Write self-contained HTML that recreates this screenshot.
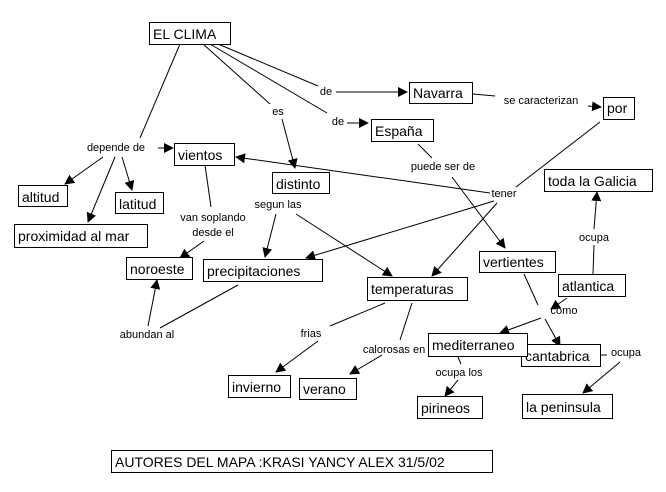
<!DOCTYPE html>
<html><head><meta charset="utf-8"><style>
html,body{margin:0;padding:0;background:#fff;}
svg{display:block;}
text{font-family:"Liberation Sans",sans-serif;fill:#000;}
.n{font-size:14px;}
.l{font-size:11px;}
rect{fill:#fff;stroke:#000;stroke-width:1;}
line{stroke:#000;stroke-width:1;}
</style></head><body>
<svg width="666" height="492" viewBox="0 0 666 492" xmlns="http://www.w3.org/2000/svg">
<defs><marker id="a" markerWidth="10" markerHeight="10" refX="9" refY="5" orient="auto" markerUnits="userSpaceOnUse"><path d="M0,0 L10,5 L0,10 z" fill="#000"/></marker></defs>
<g>
<line x1="180" y1="44" x2="140" y2="138"/>
<line x1="158" y1="148" x2="173" y2="148" marker-end="url(#a)"/>
<line x1="103" y1="157" x2="65" y2="184" marker-end="url(#a)"/>
<line x1="115" y1="157" x2="88" y2="222" marker-end="url(#a)"/>
<line x1="122" y1="157" x2="132" y2="190" marker-end="url(#a)"/>
<line x1="203" y1="44" x2="270" y2="104"/>
<line x1="282" y1="119" x2="295" y2="168" marker-end="url(#a)"/>
<line x1="218" y1="44" x2="318" y2="86"/>
<line x1="336" y1="92" x2="407" y2="92" marker-end="url(#a)"/>
<line x1="210" y1="44" x2="327" y2="113"/>
<line x1="347" y1="123" x2="368" y2="123" marker-end="url(#a)"/>
<line x1="473" y1="94" x2="495" y2="96"/>
<line x1="588" y1="106" x2="601" y2="107" marker-end="url(#a)"/>
<line x1="600" y1="122" x2="516" y2="187"/>
<line x1="490" y1="193" x2="236" y2="157" marker-end="url(#a)"/>
<line x1="494" y1="201" x2="306" y2="258" marker-end="url(#a)"/>
<line x1="497" y1="203" x2="432" y2="276" marker-end="url(#a)"/>
<line x1="418" y1="144" x2="432" y2="158"/>
<line x1="452" y1="177" x2="505" y2="248" marker-end="url(#a)"/>
<line x1="205" y1="165" x2="211" y2="207"/>
<line x1="204" y1="241" x2="180" y2="258" marker-end="url(#a)"/>
<line x1="276" y1="214" x2="265" y2="257" marker-end="url(#a)"/>
<line x1="296" y1="214" x2="392" y2="276" marker-end="url(#a)"/>
<line x1="238" y1="285" x2="160" y2="328"/>
<line x1="148" y1="326" x2="157" y2="280" marker-end="url(#a)"/>
<line x1="385" y1="303" x2="330" y2="326"/>
<line x1="318" y1="341" x2="276" y2="372" marker-end="url(#a)"/>
<line x1="412" y1="303" x2="400" y2="340"/>
<line x1="382" y1="355" x2="350" y2="374" marker-end="url(#a)"/>
<line x1="524" y1="274" x2="538" y2="305"/>
<line x1="545" y1="319" x2="560" y2="346" marker-end="url(#a)"/>
<line x1="541" y1="318" x2="500" y2="333" marker-end="url(#a)"/>
<line x1="567" y1="298" x2="551" y2="309" marker-end="url(#a)"/>
<line x1="593" y1="274" x2="594" y2="245"/>
<line x1="594" y1="229" x2="597" y2="192" marker-end="url(#a)"/>
<line x1="458" y1="357" x2="461" y2="364"/>
<line x1="458" y1="380" x2="445" y2="396" marker-end="url(#a)"/>
<line x1="601" y1="355" x2="607" y2="355"/>
<line x1="620" y1="362" x2="583" y2="393" marker-end="url(#a)"/>
</g>
<g>
<rect x="149.5" y="22.5" width="81" height="22"/><text class="n" x="153" y="39">EL CLIMA</text>
<rect x="409.5" y="82.5" width="63" height="21"/><text class="n" x="413" y="98">Navarra</text>
<rect x="603.5" y="97.5" width="31" height="22"/><text class="n" x="607" y="113">por</text>
<rect x="371.5" y="119.5" width="62" height="22"/><text class="n" x="375" y="136">España</text>
<rect x="174.5" y="143.5" width="60" height="22"/><text class="n" x="178" y="160">vientos</text>
<rect x="272.5" y="172.5" width="57" height="21"/><text class="n" x="276" y="189">distinto</text>
<rect x="544.5" y="169.5" width="108" height="22"/><text class="n" x="548" y="186">toda la Galicia</text>
<rect x="18.5" y="185.5" width="49" height="21"/><text class="n" x="22" y="202">altitud</text>
<rect x="115.5" y="192.5" width="48" height="21"/><text class="n" x="119" y="209">latitud</text>
<rect x="14.5" y="224.5" width="133" height="23"/><text class="n" x="18" y="241">proximidad al mar</text>
<rect x="479.5" y="251.5" width="76" height="21"/><text class="n" x="483" y="267">vertientes</text>
<rect x="126.5" y="257.5" width="66" height="22"/><text class="n" x="130" y="274">noroeste</text>
<rect x="203.5" y="259.5" width="119" height="22"/><text class="n" x="207" y="276">precipitaciones</text>
<rect x="367.5" y="277.5" width="100" height="23"/><text class="n" x="371" y="294">temperaturas</text>
<rect x="558.5" y="274.5" width="67" height="22"/><text class="n" x="562" y="291">atlantica</text>
<rect x="521.5" y="344.5" width="79" height="22"/><text class="n" x="525" y="361">cantabrica</text>
<rect x="428.5" y="333.5" width="99" height="23"/><text class="n" x="432" y="350">mediterraneo</text>
<rect x="228.5" y="375.5" width="62" height="22"/><text class="n" x="232" y="392">invierno</text>
<rect x="299.5" y="378.5" width="57" height="21"/><text class="n" x="303" y="394">verano</text>
<rect x="417.5" y="396.5" width="65" height="22"/><text class="n" x="421" y="413">pirineos</text>
<rect x="522.5" y="394.5" width="90" height="24"/><text class="n" x="526" y="412">la peninsula</text>
<rect x="111.5" y="450.5" width="381" height="22"/><text class="n" x="115" y="467">AUTORES DEL MAPA :KRASI YANCY ALEX 31/5/02</text>
</g>
<g class="l" text-anchor="middle">
<text class="l" x="326" y="95">de</text>
<text class="l" x="278" y="115">es</text>
<text class="l" x="338" y="125">de</text>
<text class="l" x="541" y="104">se caracterizan</text>
<text class="l" x="116" y="151">depende de</text>
<text class="l" x="443" y="170">puede ser de</text>
<text class="l" x="504" y="197">tener</text>
<text class="l" x="278" y="208">segun las</text>
<text class="l" x="213" y="221">van soplando</text>
<text class="l" x="213" y="236">desde el</text>
<text class="l" x="594" y="241">ocupa</text>
<text class="l" x="564" y="314">como</text>
<text class="l" x="147" y="338">abundan al</text>
<text class="l" x="311" y="337">frias</text>
<text class="l" x="394" y="353">calorosas en</text>
<text class="l" x="459" y="376">ocupa los</text>
<text class="l" x="626" y="356">ocupa</text>
</g>
</svg>
</body></html>
